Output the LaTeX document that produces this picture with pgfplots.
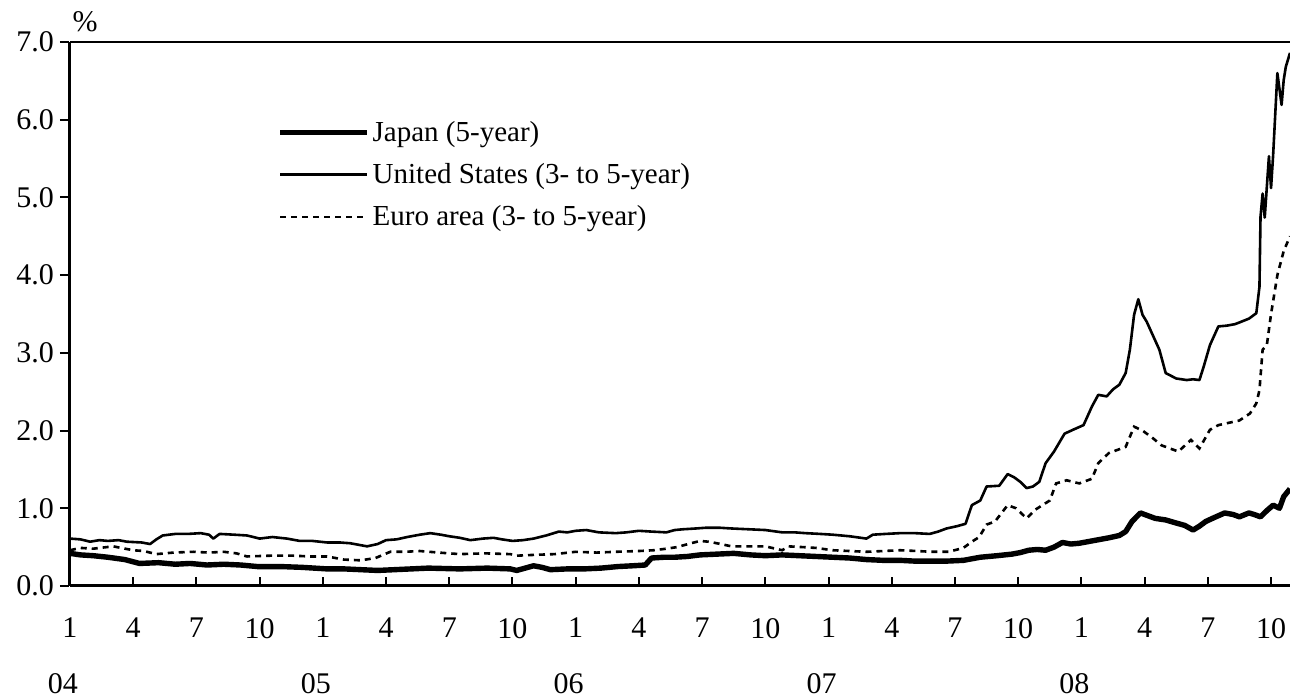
\documentclass[border=0pt]{standalone}
\usepackage{pgfplots}
\pgfplotsset{compat=1.18}
\usepackage{fontspec}
\setmainfont{Liberation Serif}
\newcommand{\lblfont}{\fontsize{14.5}{17}\selectfont}
\newcommand{\tckfont}{\fontsize{15}{17}\selectfont}
\begin{document}
\begin{tikzpicture}
\begin{axis}[
  name=ax,
  scale only axis,
  width=610pt, height=272pt,
  xmin=0, xmax=57.9, ymin=0, ymax=7,
  axis x line*=bottom, axis y line*=left,
  axis line style={-, line width=1.5pt},
  every outer x axis line/.append style={-},
  every outer y axis line/.append style={-},
  tick align=inside,
  major tick length=4.5pt,
  tick style={line width=1pt, black},
  every major y tick/.append style={xshift=-5pt},
  xtick={0,3,...,57},
  xticklabels={1,4,7,10,1,4,7,10,1,4,7,10,1,4,7,10,1,4,7,10},
  ytick={0,1,...,7},
  yticklabels={0.0,1.0,2.0,3.0,4.0,5.0,6.0,7.0},
  xticklabel style={font=\tckfont, yshift=-12.5pt},
  yticklabel style={font=\tckfont, xshift=-4.5pt},
  extra x ticks={0,12,24,36,48},
  extra x tick labels={04,05,06,07,08},
  extra x tick style={major tick length=0pt, xticklabel style={yshift=-27.5pt, xshift=-3.5pt}},
  legend style={at={(rel axis cs:0.1696,0.861)}, anchor=north west, draw=none, fill=none,
    font=\lblfont, row sep=6.5pt, inner sep=0pt, nodes={inner sep=1.5pt}},
  legend cell align=left,
  legend image code/.code={\draw[#1] (0pt,0pt) -- (43.5pt,0pt);},
]
\addplot[black, line width=2.7pt, line join=round] coordinates {
(0,0.42) (0.5,0.40) (1.1,0.39) (1.8,0.37) (2.6,0.34) (3.3,0.29) (4.2,0.30) (5.0,0.28) (5.7,0.29) (6.5,0.27) (7.3,0.28) (8.1,0.27) (8.9,0.25) (10.0,0.25) (11.0,0.24) (12.2,0.22) (13.0,0.22) (13.8,0.21) (14.6,0.20) (15.4,0.21) (16.2,0.22) (17.0,0.23) (18.5,0.22) (19.8,0.23) (20.9,0.22) (21.2,0.20) (21.6,0.23) (22.0,0.26) (22.4,0.24) (22.8,0.21) (23.6,0.22) (24.4,0.22) (25.2,0.23) (26.0,0.25) (26.7,0.26) (27.3,0.27) (27.6,0.36) (28.2,0.37) (28.7,0.37) (29.3,0.38) (29.9,0.40) (30.7,0.41) (31.5,0.42) (32.3,0.40) (33.0,0.39) (33.8,0.40) (34.6,0.39) (35.4,0.38) (36.2,0.37) (37.0,0.36) (37.8,0.34) (38.6,0.33) (39.4,0.33) (40.1,0.32) (40.8,0.32) (41.6,0.32) (42.4,0.33) (42.8,0.35) (43.2,0.37) (44.0,0.39) (44.7,0.41) (45.1,0.43) (45.5,0.46) (45.9,0.47) (46.3,0.46) (46.7,0.50) (47.1,0.56) (47.5,0.54) (47.9,0.55) (48.3,0.57) (48.7,0.59) (49.3,0.62) (49.8,0.65) (50.1,0.70) (50.4,0.83) (50.8,0.94) (51.1,0.91) (51.5,0.87) (52.0,0.85) (52.5,0.81) (52.9,0.78) (53.3,0.72) (53.6,0.77) (53.9,0.83) (54.3,0.88) (54.8,0.94) (55.2,0.92) (55.5,0.89) (55.95,0.94) (56.2,0.92) (56.5,0.89) (56.8,0.97) (57.1,1.04) (57.4,1.00) (57.6,1.15) (57.9,1.25)
};
\addlegendentry{Japan (5-year)}
\addplot[black, line width=1.3pt, line join=round] coordinates {
(0,0.61) (0.5,0.60) (0.95,0.57) (1.4,0.59) (1.8,0.58) (2.3,0.59) (2.7,0.57) (3.4,0.56) (3.8,0.54) (4.1,0.60) (4.4,0.65) (5.0,0.67) (5.6,0.67) (6.2,0.68) (6.6,0.66) (6.8,0.61) (7.1,0.67) (7.8,0.66) (8.4,0.65) (9.0,0.61) (9.6,0.63) (10.3,0.61) (10.9,0.58) (11.5,0.58) (12.2,0.56) (12.8,0.56) (13.3,0.55) (14.1,0.51) (14.6,0.54) (15.0,0.59) (15.5,0.60) (16.0,0.63) (16.6,0.66) (17.1,0.68) (17.6,0.66) (18.0,0.64) (18.5,0.62) (19.0,0.59) (19.6,0.61) (20.1,0.62) (20.5,0.60) (21.0,0.58) (21.5,0.59) (22.0,0.61) (22.6,0.65) (23.2,0.70) (23.6,0.69) (24.0,0.71) (24.5,0.72) (25.1,0.69) (25.9,0.68) (26.4,0.69) (27.0,0.71) (27.6,0.70) (28.3,0.69) (28.7,0.72) (29.1,0.73) (29.7,0.74) (30.2,0.75) (30.8,0.75) (31.4,0.74) (32.2,0.73) (33.0,0.72) (33.8,0.69) (34.4,0.69) (34.9,0.68) (35.6,0.67) (36.2,0.66) (37.0,0.64) (37.8,0.61) (38.1,0.66) (38.7,0.67) (39.4,0.68) (40.1,0.68) (40.8,0.67) (41.2,0.70) (41.6,0.74) (42.1,0.77) (42.5,0.80) (42.8,1.04) (43.2,1.10) (43.5,1.28) (44.1,1.29) (44.5,1.44) (44.8,1.40) (45.1,1.34) (45.4,1.26) (45.7,1.28) (46.0,1.34) (46.3,1.58) (46.7,1.73) (47.2,1.96) (47.6,2.01) (48.1,2.07) (48.5,2.31) (48.8,2.46) (49.2,2.44) (49.5,2.53) (49.8,2.59) (50.1,2.74) (50.3,3.04) (50.5,3.49) (50.7,3.69) (50.9,3.49) (51.1,3.40) (51.4,3.22) (51.7,3.04) (52.0,2.74) (52.5,2.67) (53.0,2.65) (53.3,2.66) (53.6,2.65) (53.8,2.82) (54.1,3.10) (54.5,3.34) (54.9,3.35) (55.3,3.37) (55.95,3.44) (56.3,3.51) (56.45,3.85) (56.5,4.75) (56.6,5.05) (56.7,4.74) (56.9,5.53) (57.0,5.12) (57.1,5.55) (57.3,6.60) (57.5,6.19) (57.6,6.51) (57.7,6.68) (57.9,6.86)
};
\addlegendentry{United States (3- to 5-year)}
\addplot[black, line width=1.3pt, dash pattern=on 3pt off 2.5pt] coordinates {
(0,0.46) (0.5,0.49) (1.1,0.48) (2.05,0.51) (3.0,0.46) (3.5,0.45) (4.1,0.41) (4.9,0.43) (5.85,0.44) (6.6,0.43) (7.3,0.44) (7.9,0.42) (8.4,0.38) (9.5,0.39) (10.6,0.39) (11.4,0.38) (12.2,0.38) (13.0,0.34) (13.8,0.33) (14.5,0.36) (15.2,0.44) (15.9,0.44) (16.6,0.45) (17.5,0.43) (18.5,0.41) (19.7,0.42) (20.9,0.41) (21.2,0.39) (22.0,0.40) (23.0,0.41) (24.0,0.44) (25.0,0.43) (25.9,0.44) (27.0,0.45) (27.7,0.46) (28.3,0.48) (28.8,0.50) (29.2,0.53) (29.9,0.58) (30.3,0.57) (30.7,0.55) (31.4,0.51) (32.2,0.51) (33.0,0.51) (33.8,0.46) (34.1,0.51) (34.8,0.50) (35.4,0.49) (36.2,0.46) (37.0,0.45) (37.8,0.44) (38.6,0.45) (39.4,0.46) (40.2,0.45) (40.9,0.44) (41.7,0.44) (42.4,0.49) (42.8,0.57) (43.15,0.63) (43.5,0.79) (43.9,0.83) (44.5,1.04) (44.9,1.00) (45.4,0.87) (45.8,0.98) (46.5,1.10) (46.8,1.32) (47.3,1.36) (47.9,1.32) (48.5,1.38) (48.8,1.58) (49.3,1.71) (50.1,1.79) (50.5,2.05) (50.9,2.00) (51.4,1.90) (51.8,1.81) (52.6,1.73) (53.2,1.88) (53.6,1.77) (54.1,2.01) (54.5,2.07) (55.5,2.13) (56.0,2.22) (56.3,2.35) (56.45,2.52) (56.6,3.04) (56.8,3.10) (57.0,3.50) (57.3,4.00) (57.6,4.31) (57.9,4.50)
};
\addlegendentry{Euro area (3- to 5-year)}
\draw[line width=1.5pt] (rel axis cs:0,1) -- (rel axis cs:1,1);
\end{axis}
\node[font=\tckfont] at ([xshift=7.5pt,yshift=10pt]ax.north west) {\%};
\pgfresetboundingbox
\path[use as bounding box] ([xshift=-35pt,yshift=-56.5pt]ax.south west) rectangle ([yshift=21pt]ax.north east);
\end{tikzpicture}
\end{document}
